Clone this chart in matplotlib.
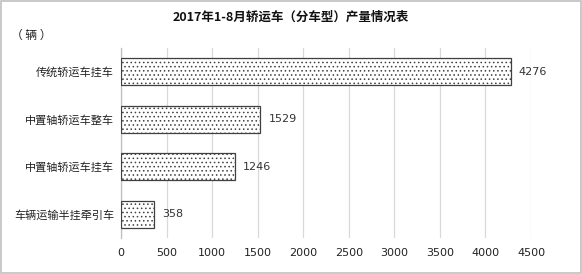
import matplotlib
matplotlib.use("Agg")
import matplotlib.pyplot as plt

plt.rcParams['font.family'] = ['Noto Sans CJK SC', 'DejaVu Sans']
plt.rcParams['hatch.linewidth'] = 0.6
plt.rcParams['hatch.color'] = '#222222'

categories = ['传统轿运车挂车', '中置轴轿运车整车', '中置轴轿运车挂车', '车辆运输半挂牵引车']
values = [4276, 1529, 1246, 358]
xticks = [0, 500, 1000, 1500, 2000, 2500, 3000, 3500, 4000, 4500]

fig = plt.figure(figsize=(5.82, 2.74), dpi=100)
ax = fig.add_axes([121 / 582, 1 - 238 / 274, (531 - 121) / 582, (238 - 48) / 274])

ypos = list(range(len(categories)))
ax.barh(ypos, values, height=0.57, color='white', edgecolor='#404040',
        linewidth=0.9, hatch='....', zorder=3)
for y, v in zip(ypos, values):
    ax.text(v + 90, y, str(v), va='center', ha='left', fontsize=8, color='#333333',
            family='DejaVu Sans')

ax.set_ylim(3.5, -0.5)
ax.set_xlim(0, 4500)
ax.set_yticks(ypos)
ax.set_yticklabels(categories, fontsize=8, color='#222222')
ax.set_xticks(xticks)
ax.set_xticklabels([str(t) for t in xticks], fontsize=8, color='#222222',
                   family='DejaVu Sans')
ax.tick_params(axis='y', length=0, pad=5)
ax.tick_params(axis='x', length=0, pad=7)
ax.grid(axis='x', color='#d9d9d9', linewidth=0.9, zorder=0)
for s in ['top', 'right', 'bottom']:
    ax.spines[s].set_visible(False)
ax.spines['left'].set_color('#bfbfbf')
ax.spines['left'].set_linewidth(0.9)

fig.text(0.5, 1 - 17 / 274, '2017年1-8月轿运车（分车型）产量情况表', ha='center', va='center',
         fontsize=9, fontweight='bold', color='#111111')
fig.text(31 / 582, 1 - 35 / 274, '（ 辆 ）', ha='center', va='center', fontsize=8.5,
         color='#222222')

# thin gray frame around the picture
fig.patches.append(plt.Rectangle((0.001, 0.002), 0.997, 0.995, transform=fig.transFigure,
                                 fill=False, edgecolor='#c0c0c0', linewidth=1.2))

fig.savefig('out.png', dpi=100)
